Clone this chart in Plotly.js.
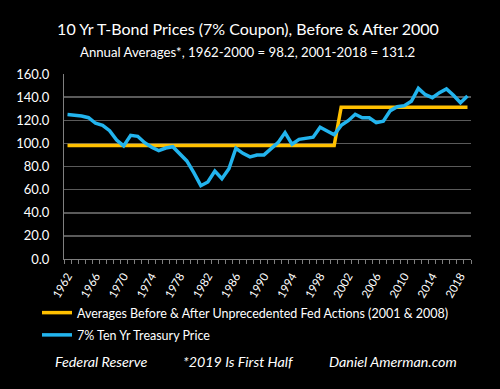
<!DOCTYPE html>
<html>
<head>
<meta charset="utf-8">
<script src="https://cdn.plot.ly/plotly-3.0.1.min.js"></script>
<style>html,body{margin:0;padding:0;background:#000;}#chart{width:500px;height:389px;}</style>
</head>
<body>
<div id="chart"></div>
<script>
const years = [];
for (let y = 1962; y <= 2019; y++) years.push(y);

const bondPrice = [
  124.9, 124.6, 123.7, 122.2, 117.4, 115.6, 111.0, 102.9, 97.8, 107.0,
  106.1, 100.6, 96.6, 93.7, 96.0, 97.1, 90.6, 84.8, 74.7, 63.4,
  66.6, 76.1, 69.5, 78.1, 95.8, 91.4, 88.3, 90.0, 90.0, 94.9,
  100.6, 109.3, 99.2, 103.5, 104.4, 105.3, 113.9, 111.0, 107.5, 115.6,
  119.6, 125.2, 122.2, 122.2, 117.9, 119.1, 128.3, 131.7, 132.6, 136.4,
  147.6, 142.1, 139.5, 143.9, 147.1, 141.6, 135.2, 141.0
];

const avgBefore = 98.2;   // 1962-2000
const avgAfter = 131.2;   // 2001-2019
const averages = years.map(y => (y <= 2000 ? avgBefore : avgAfter));

const tickYears = [1962, 1966, 1970, 1974, 1978, 1982, 1986, 1990, 1994, 1998, 2002, 2006, 2010, 2014, 2018];
const yTicks = [0, 20, 40, 60, 80, 100, 120, 140, 160];

const FONT = 'Lato, "Open Sans", sans-serif';
const TXT = '#ffffff';

// plot area in pixels: x 64..471, y 74..259
const PX = x => (x - 64) / 407;
const PY = y => (259 - y) / 185;

const traces = [
  {
    x: years, y: averages, type: 'scatter', mode: 'lines',
    name: 'Averages Before & After Unprecedented Fed Actions (2001 & 2008)',
    legendgroup: 'a',
    line: {color: '#FFC000', width: 3.5}
  },
  {
    x: years, y: bondPrice, type: 'scatter', mode: 'lines',
    name: '7% Ten Yr Treasury Price',
    legendgroup: 'b',
    line: {color: '#22B4EE', width: 3.5}
  }
];

const layout = {
  width: 500, height: 389,
  paper_bgcolor: '#000', plot_bgcolor: '#000',
  margin: {l: 64, r: 29, t: 74, b: 130, autoexpand: false},
  font: {family: FONT, color: TXT, size: 12},
  title: {
    text: '10 Yr T-Bond Prices (7% Coupon), Before & After 2000',
    font: {family: FONT, size: 16, color: TXT},
    x: 0.496, xanchor: 'center', xref: 'container',
    y: 1 - 29/389, yanchor: 'middle', yref: 'container'
  },
  annotations: [
    {text: 'Annual Averages*, 1962-2000 = 98.2, 2001-2018 = 131.2', xref: 'paper', yref: 'paper',
     x: PX(247), y: PY(52), xanchor: 'center', yanchor: 'middle', showarrow: false,
     font: {family: FONT, size: 13.2, color: TXT}},
    {text: '<i>Federal Reserve</i>', xref: 'paper', yref: 'paper',
     x: PX(53), y: PY(361), xanchor: 'left', yanchor: 'middle', showarrow: false,
     font: {family: FONT, size: 14.3, color: TXT}},
    {text: '<i>*2019 Is First Half</i>', xref: 'paper', yref: 'paper',
     x: PX(181), y: PY(361), xanchor: 'left', yanchor: 'middle', showarrow: false,
     font: {family: FONT, size: 14.3, color: TXT}},
    {text: '<i>Daniel Amerman.com</i>', xref: 'paper', yref: 'paper',
     x: PX(327), y: PY(361), xanchor: 'left', yanchor: 'middle', showarrow: false,
     font: {family: FONT, size: 14.3, color: TXT}}
  ],
  xaxis: {
    type: 'linear', range: [1961.5, 2019.5],
    tickmode: 'array', tickvals: tickYears, ticktext: tickYears.map(String),
    tickangle: -60, ticks: '', showgrid: false, zeroline: false,
    showline: true, linecolor: '#7f7f7f', linewidth: 1,
    ticklabelstandoff: 5,
    tickfont: {family: FONT, size: 11.5, color: TXT},
    minor: {tick0: 1961.5, dtick: 1, ticks: 'outside', ticklen: 4, tickcolor: '#7f7f7f', tickwidth: 1, showgrid: false}
  },
  yaxis: {
    range: [0, 160], tickmode: 'array', tickvals: yTicks, ticktext: yTicks.map(v => v.toFixed(1)),
    showgrid: true, gridcolor: '#5a5a5a', gridwidth: 1.5, zeroline: false,
    showline: true, linecolor: '#7f7f7f', linewidth: 1, ticks: '',
    ticklabelstandoff: 11,
    tickfont: {family: FONT, size: 13, color: TXT}
  },
  showlegend: true,
  legend: {
    xref: 'paper', yref: 'paper', x: PX(37), y: PY(298),
    xanchor: 'left', yanchor: 'top', orientation: 'v',
    bgcolor: 'rgba(0,0,0,0)', font: {family: FONT, size: 12.5, color: TXT},
    traceorder: 'grouped', tracegroupgap: 3, itemwidth: 30
  }
};

Plotly.newPlot('chart', traces, layout, {displayModeBar: false, staticPlot: true});
</script>
</body>
</html>
